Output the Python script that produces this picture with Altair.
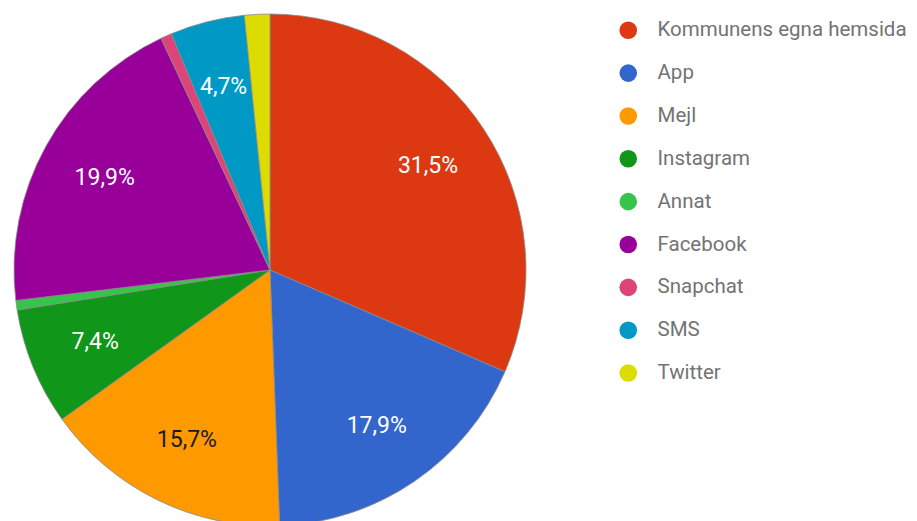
import altair as alt
import pandas as pd

kanaler = ["Kommunens egna hemsida", "App", "Mejl", "Instagram", "Annat",
           "Facebook", "Snapchat", "SMS", "Twitter"]
andel = [31.5, 17.9, 15.7, 7.4, 0.6, 19.9, 0.7, 4.7, 1.6]
etiketter = ["31,5%", "17,9%", "15,7%", "7,4%", "", "19,9%", "", "4,7%", ""]
farger = ["#dc3912", "#3366cc", "#ff9900", "#109618", "#36c54a",
          "#990099", "#dd4477", "#0099c6", "#dcdc00"]

df = pd.DataFrame({
    "kanal": kanaler,
    "andel": andel,
    "etikett": etiketter,
    "ordning": list(range(len(kanaler))),
})

CX, CY, R = 262, 262, 256

base = alt.Chart(df).encode(
    theta=alt.Theta("andel:Q", stack=True),
    order=alt.Order("ordning:Q", sort="ascending"),
)

pie = base.mark_arc(radius=R, stroke="#8a8a8a", strokeWidth=0.8).encode(
    x=alt.value(CX),
    y=alt.value(CY),
    color=alt.Color(
        "kanal:N",
        scale=alt.Scale(domain=kanaler, range=farger),
        sort=kanaler,
        legend=alt.Legend(
            title=None,
            orient="none",
            legendX=610,
            legendY=12,
            padding=0,
            symbolType="circle",
            symbolSize=310,
            symbolStrokeWidth=0,
            labelFont="Roboto",
            labelFontSize=20.5,
            labelColor="#737373",
            labelOffset=19,
            rowPadding=21.85,
            labelLimit=400,
        ),
    ),
)

text = base.mark_text(radius=189, font="Roboto", fontSize=23, align="center",
                      baseline="middle").encode(
    x=alt.value(CX),
    y=alt.value(CY),
    text="etikett:N",
    color=alt.condition(alt.datum.kanal == "Mejl", alt.value("#1a1a1a"), alt.value("white")),
)

chart = (pie + text).properties(
    width=901, height=513, padding=0,
    autosize=alt.AutoSizeParams(type="none"),
).configure_view(stroke=None)

chart.save("out.html", embed_options={"renderer": "svg", "actions": False})
